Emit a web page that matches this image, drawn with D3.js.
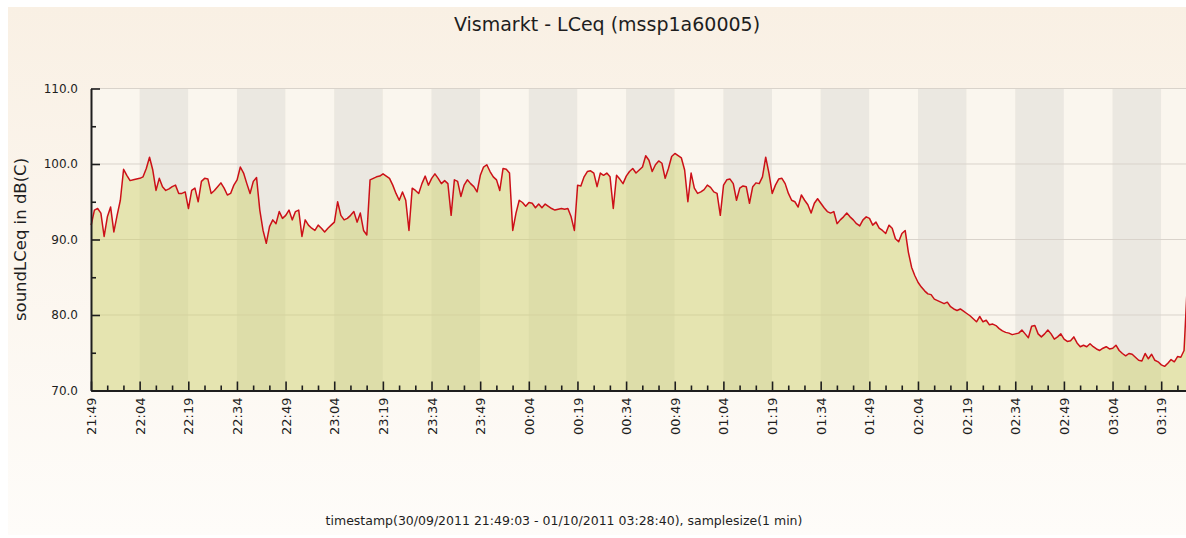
<!DOCTYPE html>
<html>
<head>
<meta charset="utf-8">
<script src="https://cdn.jsdelivr.net/npm/d3@7"></script>
<style>
body { margin: 0; background: #fff; }
svg { display: block; }
</style>
</head>
<body>
<svg id="chart" width="1186" height="538"></svg>
<script>
const title = 'Vismarkt - LCeq (mssp1a60005)'
const yLabel = 'soundLCeq in dB(C)'
const xLabel = 'timestamp(30/09/2011 21:49:03 - 01/10/2011 03:28:40), samplesize(1 min)'

const startTime = new Date(2011, 8, 30, 21, 49, 3)
const endTime = new Date(2011, 9, 1, 3, 28, 40)
const tickStart = new Date(2011, 8, 30, 21, 49, 0)

const xTickLabels = ['21:49', '22:04', '22:19', '22:34', '22:49', '23:04', '23:19', '23:34',
	'23:49', '00:04', '00:19', '00:34', '00:49', '01:04', '01:19', '01:34', '01:49', '02:04',
	'02:19', '02:34', '02:49', '03:04', '03:19']
const yTicks = [70, 80, 90, 100, 110]
const yMinorTicks = [75, 85, 95, 105]

// one sample per minute, from 21:49:03
const lceq = [
	91.9, 93.9, 94.1, 93.5, 90.4, 93.0, 94.3, 91.0, 93.2, 95.2,
	99.3, 98.5, 97.8, 97.9, 98.0, 98.1, 98.3, 99.4, 100.9, 99.2,
	96.5, 98.1, 97.0, 96.5, 96.7, 97.0, 97.2, 96.1, 96.1, 96.3,
	94.1, 96.5, 96.8, 95.0, 97.7, 98.1, 98.0, 96.1, 96.5, 97.0,
	97.5, 96.8, 95.9, 96.1, 97.2, 97.9, 99.6, 98.8, 97.4, 96.1,
	97.7, 98.2, 93.9, 91.2, 89.5, 91.7, 92.6, 92.1, 93.7, 92.8,
	93.2, 93.9, 92.6, 93.7, 93.9, 90.4, 92.6, 91.9, 91.5, 91.2,
	91.9, 91.5, 91.0, 91.5, 91.9, 92.3, 95.0, 93.2, 92.6, 92.8,
	93.2, 93.7, 92.3, 93.5, 91.2, 90.6,
	97.9, 98.1, 98.3, 98.4, 98.7, 98.4, 98.1, 97.2, 96.1, 95.2,
	96.3, 95.2, 91.2, 96.8, 96.5, 96.1, 97.4, 98.4, 97.2, 98.1,
	98.7, 98.1, 97.4, 97.8, 97.4, 93.2, 97.9, 97.7, 95.7, 97.2,
	97.9, 97.4, 97.0, 96.3, 98.5, 99.6, 99.9, 99.0, 98.3, 97.9,
	96.5, 99.4, 99.3, 98.8, 91.2, 93.5, 95.2, 94.9, 94.4, 94.9,
	94.8, 94.2, 94.7, 94.2, 94.7, 94.4, 94.1, 93.9, 94.0, 94.1,
	94.0, 94.1, 93.0, 91.2, 97.2, 97.1, 98.3, 99.0, 99.1, 98.8,
	97.0, 98.8, 98.5, 98.8, 98.3, 94.1, 98.5, 98.0, 97.4, 98.4,
	99.0, 99.4, 98.8, 99.2, 99.6,
	101.1, 100.5, 99.0, 99.9, 100.4, 100.1, 98.1, 99.4, 101.0, 101.4,
	101.1, 100.8, 99.2, 95.0, 98.8, 96.8, 96.1, 96.3, 96.6, 97.2,
	96.9, 96.3, 96.1, 93.2, 97.2, 97.9, 98.0, 97.4, 95.2, 96.8,
	97.1, 97.0, 94.8, 97.0, 97.5, 97.4, 98.3, 100.9, 98.8, 96.1,
	97.2, 98.0, 98.1, 97.4, 96.1, 95.2, 95.0, 94.3, 95.9, 95.2,
	94.6, 93.5, 94.8, 95.4, 94.8, 94.2, 93.7, 93.5, 93.7, 92.1,
	92.6, 93.0, 93.5, 93.0, 92.6, 92.1, 91.8, 92.6, 93.0, 92.8,
	91.9, 92.3, 91.5, 91.2, 90.8, 91.9, 91.5, 90.1, 89.7,
	90.8, 91.2, 88.3, 86.3, 85.2, 84.3, 83.7, 83.2, 82.8, 82.7,
	82.1, 81.9, 81.7, 81.5, 81.7, 81.1, 80.8, 80.6, 80.8, 80.5,
	80.2, 79.9, 79.5, 79.1, 79.8, 79.1, 79.3, 78.7, 78.8, 78.6,
	78.2, 77.9, 77.7, 77.6, 77.4, 77.5, 77.6, 78.0, 77.5, 77.0,
	78.5, 78.6, 77.5, 77.1, 77.5, 78.0, 77.5, 76.8, 77.1, 77.5,
	76.8, 76.5, 76.6, 77.1, 76.3, 75.8, 76.0, 75.8, 76.2, 75.8,
	75.5, 75.3, 75.6, 75.8, 75.5, 75.6, 76.0, 75.3, 74.9, 74.6,
	74.9, 74.8, 74.4, 74.0, 73.9, 74.9, 74.2, 74.8, 74.0, 73.8,
	73.4, 73.2, 73.6, 74.1, 73.8, 74.5, 74.4, 75.3, 84.0
]

const svg = d3.select('#chart')
const textColor = '#1e1e1e'
const lineColor = '#cc1018'
const bandLight = '#faf6ee'
const bandGrey = '#ebe8e1'
const plotLeft = 91
const plotTop = 88.5
const plotBottom = 390.5
const pxPerMin = 3.243

const data = lceq.map((v, i) => ({ time: d3.timeMinute.offset(startTime, i), value: v }))

const xScale = d3.scaleTime()
	.domain([tickStart, endTime])
	.range([plotLeft, plotLeft + pxPerMin * (endTime - tickStart) / 60000])

const yScale = d3.scaleLinear()
	.domain([70, 110])
	.range([plotBottom, plotTop])

// fondo
const defs = svg.append('defs')
const grad = defs.append('linearGradient')
	.attr('id', 'bg')
	.attr('x1', 0).attr('y1', 0).attr('x2', 0).attr('y2', 1)
grad.append('stop').attr('offset', 0).attr('stop-color', '#f9f0e4')
grad.append('stop').attr('offset', 1).attr('stop-color', '#fefcf9')

svg.append('rect')
	.attr('x', 8)
	.attr('y', 7)
	.attr('width', 1200)
	.attr('height', 528)
	.attr('fill', 'url(#bg)')

// bande verticali ogni 15 minuti
const bands = d3.range(xTickLabels.length + 1).map(i => ({
	x0: d3.timeMinute.offset(tickStart, i * 15),
	x1: d3.timeMinute.offset(tickStart, (i + 1) * 15),
	grey: i % 2 === 1
}))

svg.append('g')
	.selectAll('rect')
	.data(bands)
	.enter()
	.append('rect')
		.attr('x', d => xScale(d.x0))
		.attr('y', plotTop)
		.attr('width', d => xScale(d.x1) - xScale(d.x0))
		.attr('height', plotBottom - plotTop)
		.attr('fill', d => d.grey ? bandGrey : bandLight)

svg.append('g')
	.selectAll('line')
	.data(yTicks)
	.enter()
	.append('line')
		.attr('x1', plotLeft)
		.attr('x2', xScale(endTime) + 20)
		.attr('y1', d => yScale(d))
		.attr('y2', d => yScale(d))
		.style('stroke', '#d9d3cb')
		.style('stroke-width', 1)

// area e linea
const area = d3.area()
	.x(d => xScale(d.time))
	.y0(yScale(70))
	.y1(d => yScale(d.value))

const line = d3.line()
	.x(d => xScale(d.time))
	.y(d => yScale(d.value))

svg.append('path')
	.datum(data)
	.attr('d', area)
	.attr('fill', '#cfd172')
	.attr('fill-opacity', 0.5)

svg.append('path')
	.datum(data)
	.attr('d', line)
	.attr('fill', 'none')
	.attr('stroke', lineColor)
	.attr('stroke-width', 1.5)
	.attr('stroke-linejoin', 'round')

// assi
const yAxis = d3.axisLeft(yScale)
	.tickValues(yTicks)
	.tickSize(-9)
	.tickSizeOuter(0)
	.tickPadding(13)
	.tickFormat(d3.format('.1f'))

const yMinor = d3.axisLeft(yScale)
	.tickValues(yMinorTicks)
	.tickSize(-5)
	.tickFormat('')

const majorTimes = xTickLabels.map((l, i) => d3.timeMinute.offset(tickStart, i * 15))
const minorTimes = d3.range(0, 340, 5).filter(m => m % 15 !== 0).map(m => d3.timeMinute.offset(tickStart, m))

const xAxis = d3.axisBottom(xScale)
	.tickValues(majorTimes)
	.tickSize(-9)
	.tickSizeOuter(0)
	.tickFormat((d, i) => xTickLabels[i])

const xMinor = d3.axisBottom(xScale)
	.tickValues(minorTimes)
	.tickSize(-5)
	.tickFormat('')

svg.append('g')
	.attr('transform', `translate(${plotLeft}, 0)`)
	.call(yMinor)
	.select('path.domain').remove()

svg.append('g')
	.attr('transform', `translate(0, ${plotBottom})`)
	.call(xMinor)
	.select('path.domain').remove()

const xTicksG = svg.append('g')
	.attr('class', 'xaxis')
	.attr('transform', `translate(0, ${plotBottom})`)
	.call(xAxis)

xTicksG.selectAll('text')
	.attr('transform', 'rotate(-90)')
	.attr('x', -7)
	.attr('y', 0)
	.attr('dy', '0.35em')
	.style('text-anchor', 'end')
	.style('font-size', '13px')

const yTicksG = svg.append('g')
	.attr('class', 'yaxis')
	.attr('transform', `translate(${plotLeft}, 0)`)
	.call(yAxis)

yTicksG.selectAll('text')
	.style('font-size', '12px')

svg.selectAll('.tick line')
	.style('stroke', textColor)
	.style('stroke-width', 1.6)

svg.selectAll('.tick text')
	.style('fill', textColor)
	.style('font-family', 'DejaVu Sans')

svg.selectAll('path.domain')
	.style('stroke', textColor)
	.style('stroke-width', 2)

// testi
svg.append('text')
	.attr('x', 607)
	.attr('y', 31)
	.style('text-anchor', 'middle')
	.style('font-family', 'DejaVu Sans')
	.style('font-size', '19px')
	.style('fill', textColor)
	.text(title)

svg.append('text')
	.attr('transform', `translate(26, ${(plotTop + plotBottom) / 2}) rotate(-90)`)
	.style('text-anchor', 'middle')
	.style('font-family', 'DejaVu Sans')
	.style('font-size', '16.5px')
	.style('fill', textColor)
	.text(yLabel)

svg.append('text')
	.attr('x', 564)
	.attr('y', 525)
	.style('text-anchor', 'middle')
	.style('font-family', 'DejaVu Sans')
	.style('font-size', '12.5px')
	.style('fill', textColor)
	.text(xLabel)
</script>
</body>
</html>
